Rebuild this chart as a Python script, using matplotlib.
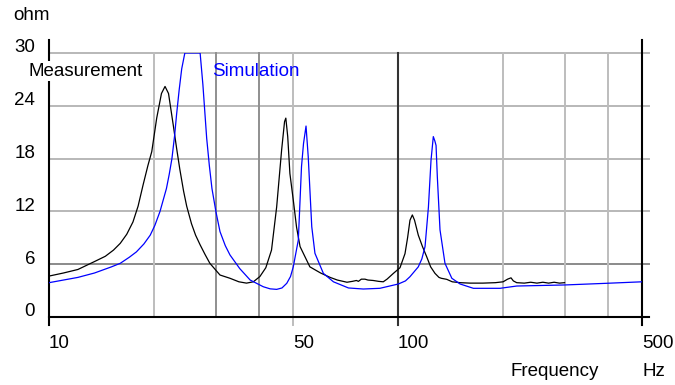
import numpy as np
import matplotlib
matplotlib.use("Agg")
import matplotlib.pyplot as plt

plt.rcParams["font.family"] = ["Liberation Sans", "DejaVu Sans"]
plt.rcParams["font.size"] = 13.5

# measured impedance (Hz, ohm)
meas_f = [10, 11, 12.1, 13.5, 14.5, 15.3, 16.0, 16.7, 17.4, 18.0, 18.6, 19.2, 19.7, 20.35,
          21.0, 21.5, 22.0, 22.7, 23.2, 23.7, 24.3, 24.8, 25.6, 26.3, 27.1, 28.0, 28.9,
          30.9, 33.0, 35.0, 36.8, 38.5, 40.2, 41.8, 43.4, 44.9,
          46.4, 47.3, 47.7, 48.3, 49.0, 50.1, 51.2, 52.4, 55.9, 60, 63.9, 67, 71.4, 74,
          76, 77, 78.5, 80.4, 82, 84.9, 88, 90.7, 93, 97, 101.3, 104.7, 106.5, 108.2,
          109.9, 111.5, 114.3, 117.5, 120.8, 124, 127.6, 131, 133, 137.9, 143, 150.6,
          160.8, 175, 190, 200, 206, 210.7, 214, 218.8, 230, 240, 250, 260, 270, 280,
          290, 300]
meas_z = [4.65, 5.0, 5.4, 6.3, 6.9, 7.6, 8.37, 9.4, 10.8, 12.6, 15.0, 17.2, 18.8, 22.6,
          25.4, 26.2, 25.4, 21.8, 19.2, 16.8, 14.3, 12.6, 10.6, 9.3, 8.2, 7.1, 6.1,
          4.77, 4.4, 4.0, 3.85, 4.0, 4.6, 5.6, 7.6, 12.5,
          19.0, 22.2, 22.6, 20.5, 16.3, 13.3, 10.2, 8.0, 5.7, 5.0, 4.5, 4.2, 3.95, 4.05,
          4.15, 4.05, 4.3, 4.3, 4.2, 4.15, 4.05, 4.0, 4.3, 4.96, 5.6, 7.2, 9.0, 11.0,
          11.6, 11.0, 9.3, 8.0, 6.85, 5.7, 4.96, 4.5, 4.4, 4.28, 4.0, 3.9,
          3.85, 3.85, 3.9, 4.0, 4.3, 4.45, 4.1, 3.9, 3.85, 3.95, 3.85, 3.95, 3.85, 3.95,
          3.85, 3.9]

# simulated impedance (Hz, ohm), plateau at the top of the scale
sim_f = [10, 12.1, 13.5, 15.1, 16.0, 17.0, 17.8, 18.7, 19.5, 20.1, 20.8, 21.7, 22.1, 22.5,
         22.9, 23.2, 23.6, 24.0, 24.5, 27.1, 27.6, 28.3, 28.8, 29.3, 30.1, 30.9, 32.0,
         33.0, 35.2, 37.7, 41.1, 43,
         44.9, 46.5, 48.0, 49.2, 50.1, 51.8, 52.9, 53.6, 54.5, 55.3, 56.6, 57.8, 61.1,
         65.3, 72.1, 79.5, 88.7, 100.2, 105, 108.2, 114.3, 117, 119.5, 122.2, 124.3,
         126.2, 127.5, 128.5, 129.6, 131.9, 136.3, 142.6, 150.6, 164.4, 196, 218.8,
         300, 396, 500]
sim_z = [3.9, 4.5, 5.0, 5.7, 6.1, 6.8, 7.4, 8.3, 9.3, 10.4, 12.0, 14.6, 16.2, 18.0,
         20.6, 23.0, 25.8, 28.2, 30, 30, 26.4, 20.3, 17.2, 14.6, 11.9, 9.7, 8.1,
         7.05, 5.5, 4.2, 3.44, 3.2,
         3.14, 3.3, 3.83, 4.6, 5.7, 8.75, 17.1, 19.7, 21.7, 18.2, 10.26, 7.24, 4.96,
         4.0, 3.3, 3.18, 3.26, 3.75, 4.1, 4.58, 5.7, 6.6, 8.0, 12.5, 17.8,
         20.5, 20.0, 19.5, 15.9, 9.9, 6.1, 4.4, 3.75, 3.26, 3.26, 3.52,
         3.64, 3.83, 4.0]

y_ticks = [0, 6, 12, 18, 24, 30]
x_labels = [10, 50, 100, 500]
light_x = [20, 50, 200, 300, 400]
mid_x = [30, 40]

W, H = 675, 385
fig = plt.figure(figsize=(W / 100, H / 100), dpi=100)
ax = fig.add_axes([49 / W, 68 / H, 593 / W, 264 / H])
ax.set_xscale("log")
ax.set_xlim(10, 500)
ax.set_ylim(0, 30)
ax.axis("off")

x_end = 523
y_top = 31.5
y_bot = -0.9

# horizontal grid
for y in y_ticks[1:]:
    c = "#8a8a8a" if y == 6 else "#b8b8b8"
    ax.plot([10, x_end], [y, y], color=c, lw=1.4, clip_on=False, zorder=1)

# vertical grid
for x in light_x:
    lo = y_bot if x == 50 else 0
    ax.plot([x, x], [lo, 30], color="#bdbdbd", lw=1.4, clip_on=False, zorder=1)
for x in mid_x:
    ax.plot([x, x], [0, 30], color="#8f8f8f", lw=1.4, clip_on=False, zorder=1)
ax.plot([100, 100], [y_bot, 30], color="#333333", lw=1.5, clip_on=False, zorder=1)

# frame lines
ax.plot([10, x_end], [0, 0], color="black", lw=1.5, clip_on=False, zorder=2)
ax.plot([10, 10], [y_bot, y_top], color="black", lw=1.5, clip_on=False, zorder=2)
ax.plot([500, 500], [y_bot, y_top], color="black", lw=1.5, clip_on=False, zorder=2)

ax.plot(meas_f, meas_z, color="black", lw=0.9, zorder=3)
ax.plot(sim_f, sim_z, color="#0000ff", lw=0.9, zorder=3)

# labels
for y in y_ticks:
    py = 317 - y * 8.8 - 5
    fig.text(35 / W, 1 - py / H, str(y), ha="right", va="center")
for x in x_labels:
    px = 49 + 349 * (np.log10(x) - 1)
    fig.text(px / W, 1 - 343 / H, str(x), ha="left", va="center")

fig.text(13 / W, 1 - 15 / H, "ohm", ha="left", va="center")
fig.text(510 / W, 1 - 372 / H, "Frequency", ha="left", va="center")
fig.text(642 / W, 1 - 372 / H, "Hz", ha="left", va="center")
fig.text(29 / W, 1 - 71 / H, "Measurement", ha="left", va="center", zorder=5,
         bbox=dict(facecolor="white", edgecolor="none", pad=1))
fig.text(212 / W, 1 - 71 / H, "Simulation", ha="left", va="center", color="#0000ff")

fig.savefig("out.png", dpi=100)
